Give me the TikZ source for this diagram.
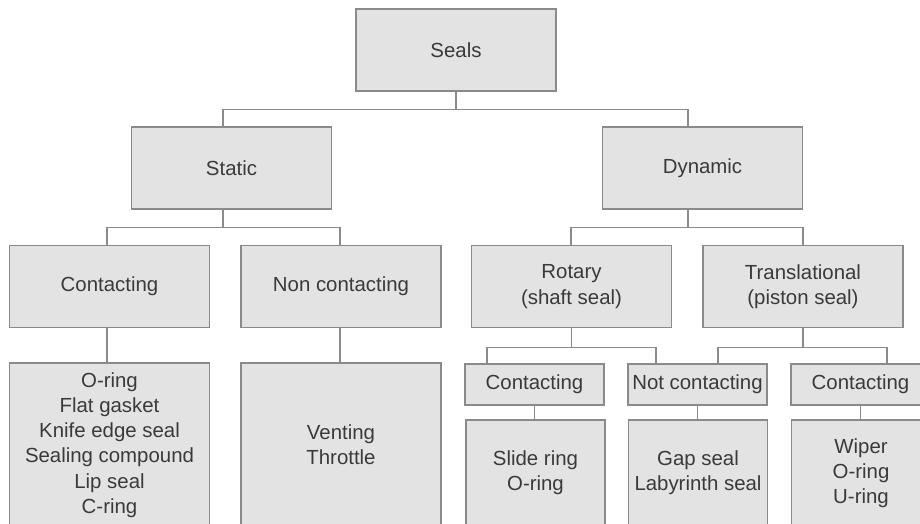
\documentclass[tikz,border=0pt]{standalone}
\usepackage{fontspec}
\setmainfont{Liberation Sans}
\usetikzlibrary{calc}
\definecolor{boxfill}{HTML}{E3E3E3}
\definecolor{boxline}{HTML}{8A8A8A}
\definecolor{textgray}{HTML}{3A3A3A}
\begin{document}
\begin{tikzpicture}
[
 x=0.5pt, y=-0.5pt,
 every node/.style={font=\fontsize{10.2}{12.6}\selectfont, text=textgray},
 inner sep=0pt,
 BIGBOX/.style={rectangle, draw=boxline, fill=boxfill, line width=0.7pt, minimum width=100pt, minimum height=41pt, align=center},
 SMALLBOX/.style={rectangle, draw=boxline, fill=boxfill, line width=0.7pt, minimum width=69.5pt, minimum height=20.5pt, align=center},
 LISTBOX/.style={rectangle, draw=boxline, fill=boxfill, line width=0.7pt, minimum width=100pt, minimum height=82pt, align=center},
 SLISTBOX/.style={rectangle, draw=boxline, fill=boxfill, line width=0.7pt, minimum width=69.5pt, minimum height=53pt, align=center},
 LINK/.style={draw=boxline, line width=0.7pt},
 ]
%
\useasboundingbox (0,0) rectangle (920,524);
\clip (0,0) rectangle (920,524);
%
\node [BIGBOX]  (SEALS)  at (456,50)    {Seals};
\node [BIGBOX]  (STAT)   at (231.5,168) {Static};
\node [BIGBOX]  (DYN)    at (702.5,168) {Dynamic};
%
\node [BIGBOX]  (SC)     at (109.5,286.5) {Contacting};
\node [BIGBOX]  (SN)     at (341,286.5)   {Non contacting};
\node [BIGBOX]  (ROT)    at (571.5,286.5) {Rotary\\(shaft seal)};
\node [BIGBOX]  (TRA)    at (803,286.5)   {Translational\\(piston seal)};
%
\node [SMALLBOX] (RC)    at (534.5,384.5) {Contacting};
\node [SMALLBOX] (NC)    at (697.5,384.5) {Not contacting};
\node [SMALLBOX] (TC)    at (860.5,384.5) {Contacting};
%
\node [LISTBOX]  (SCL)   at (109.5,445) {O-ring\\Flat gasket\\Knife edge seal\\Sealing compound\\Lip seal\\C-ring};
\node [LISTBOX]  (SNL)   at (341,445)   {Venting\\Throttle};
\node [SLISTBOX] (RCL)   at (535.5,473) {Slide ring\\O-ring};
\node [SLISTBOX] (NCL)   at (698,473)   {Gap seal\\Labyrinth seal};
\node [SLISTBOX] (TCL)   at (861,473)   {Wiper\\O-ring\\U-ring};
%
\draw [LINK] (SEALS.south) -- ++(0,18) coordinate (BAR0);
\draw [LINK] ($(STAT.north)+(-8.5,0)$) |- (BAR0) -| ($(DYN.north)+(-14.5,0)$);
%
\draw [LINK] ($(STAT.south)+(-8.5,0)$) -- ++(0,18) coordinate (BAR1);
\draw [LINK] ($(SC.north)+(-2.5,0)$) |- (BAR1) -| ($(SN.north)+(-1,0)$);
\draw [LINK] ($(DYN.south)+(-14.5,0)$) -- ++(0,18) coordinate (BAR2);
\draw [LINK] ($(ROT.north)+(-0.5,0)$) |- (BAR2) -| (TRA.north);
%
\draw [LINK] (ROT.south) -- ++(0,19) coordinate (BAR3);
\draw [LINK] ($(RC.north)+(-47.5,0)$) |- (BAR3) -| ($(NC.north)+(-41.5,0)$);
\draw [LINK] (TRA.south) -- ++(0,19) coordinate (BAR4);
\draw [LINK] ($(NC.north)+(20.5,0)$) |- (BAR4) -| ($(TC.north)+(26.5,0)$);
%
\draw [LINK] ($(SC.south)+(-2.5,0)$) -- ($(SCL.north)+(-2.5,0)$);
\draw [LINK] ($(SN.south)+(-1,0)$) -- ($(SNL.north)+(-1,0)$);
\draw [LINK] (RC.south) -- (RC.south |- RCL.north);
\draw [LINK] (NC.south) -- (NC.south |- NCL.north);
\draw [LINK] (TC.south) -- (TC.south |- TCL.north);
%
\end{tikzpicture}
\end{document}
